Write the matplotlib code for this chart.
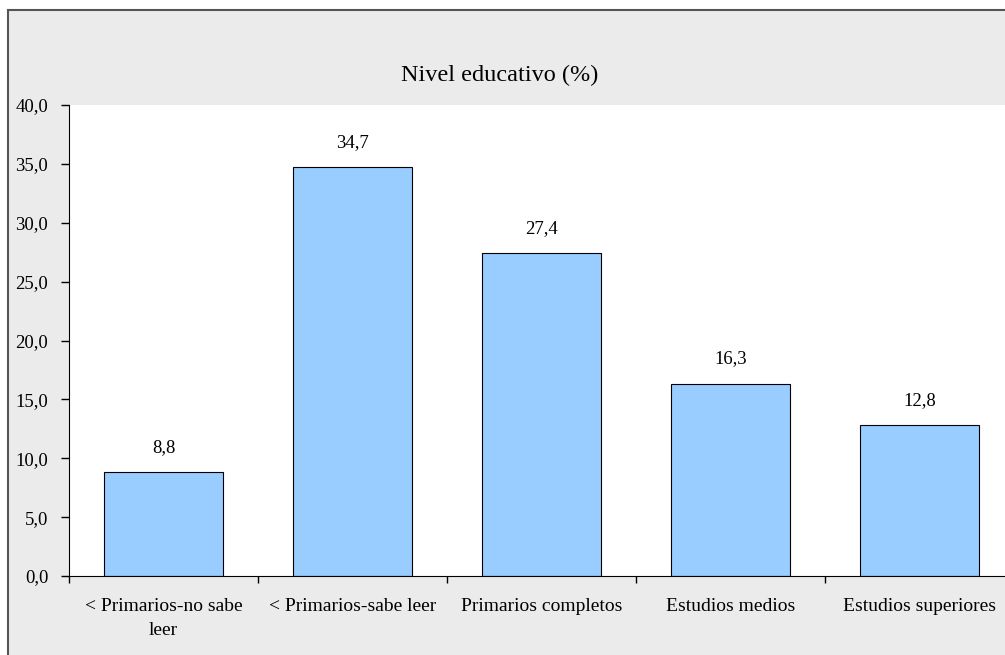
import matplotlib.pyplot as plt
from matplotlib.patches import Rectangle
import numpy as np

categorias = ["< Primarios-no sabe\nleer", "< Primarios-sabe leer", "Primarios completos",
              "Estudios medios", "Estudios superiores"]
valores = [8.8, 34.7, 27.4, 16.3, 12.8]
etiquetas = ["8,8", "34,7", "27,4", "16,3", "12,8"]

plt.rcParams['font.family'] = ['Liberation Serif', 'DejaVu Serif']

fig = plt.figure(figsize=(10.05, 6.55), dpi=100)
fig.patch.set_facecolor('white')

# fondo gris del area del grafico (estilo Excel)
fondo = Rectangle((8 / 1005, -0.01), 1.0, (645 / 655) + 0.01, transform=fig.transFigure,
                  facecolor='#ebebeb', edgecolor='#555555', linewidth=1.5, zorder=-10)
fig.add_artist(fondo)

ax = fig.add_axes([69 / 1005, 79 / 655, 945 / 1005, 471 / 655])
ax.set_facecolor('white')

x = np.arange(len(valores))
ax.bar(x, valores, width=0.625, color='#99ccff', edgecolor='black', linewidth=0.8, zorder=2)

for xi, v, t in zip(x, valores, etiquetas):
    ax.text(xi, v + 1.4, t, ha='center', va='bottom', fontsize=13.5)

ax.set_xlim(-0.5, len(valores) - 0.5)
ax.set_ylim(0, 40)
ax.set_yticks(np.arange(0, 45, 5))
ax.set_yticklabels([f"{v:.1f}".replace('.', ',') for v in np.arange(0, 45, 5)], fontsize=13.5)
ax.tick_params(axis='y', direction='out', length=6, width=1, pad=9)

ax.set_xticks(np.arange(-0.5, len(valores), 1))
ax.set_xticklabels([])
ax.tick_params(axis='x', direction='out', length=5, width=1)
for xi, c in zip(x, categorias):
    ax.text(xi, -1.9, c, ha='center', va='top', fontsize=14, linespacing=1.5)

for s in ['top', 'right']:
    ax.spines[s].set_visible(False)
ax.spines['left'].set_color('black')
ax.spines['bottom'].set_color('black')

fig.text(500 / 1005, 1 - 75 / 655, "Nivel educativo (%)", ha='center', va='center', fontsize=17.5)

fig.savefig('out.png', dpi=100, facecolor=fig.get_facecolor())
